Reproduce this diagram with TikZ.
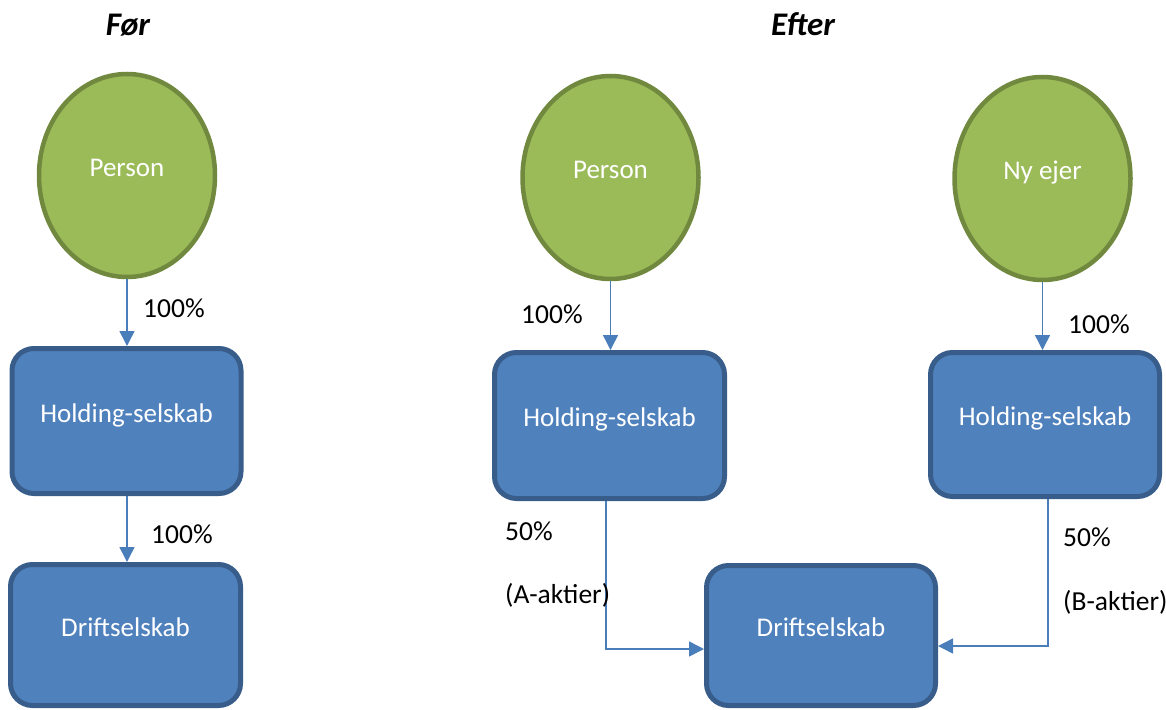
\documentclass[tikz,border=0pt]{standalone}
\usepackage{fontspec}
\setmainfont{Carlito}
\usetikzlibrary{shapes.geometric,arrows.meta}
\definecolor{ownerfill}{HTML}{9BBB59}
\definecolor{ownerline}{HTML}{71893F}
\definecolor{boxfill}{HTML}{4F81BD}
\definecolor{boxline}{HTML}{385D8A}
\definecolor{linkcol}{HTML}{4A7EBB}

\begin{document}
\begin{tikzpicture}[x=1pt,y=-1pt,
  owner/.style={ellipse, draw=ownerline, fill=ownerfill, line width=4.5pt,
    minimum width=176pt, minimum height=203pt, inner sep=0pt,
    text=white, font=\fontsize{27}{31}\selectfont, text height=17pt, text depth=15pt},
  company/.style={rectangle, rounded corners=22pt, draw=boxline, fill=boxfill,
    line width=5pt, minimum width=229pt, minimum height=143pt, inner sep=0pt,
    text=white, font=\fontsize{27}{31}\selectfont, text height=17pt, text depth=15pt},
  pct/.style={font=\fontsize{27.5}{31}\selectfont, anchor=west, inner sep=0pt,
    text height=17pt, text depth=0pt},
  heading/.style={font=\fontsize{33}{38}\selectfont\bfseries\itshape, inner sep=0pt,
    text height=21pt, text depth=0pt},
  link/.style={draw=linkcol, line width=1.5pt, -{Triangle[width=15pt,length=15pt]}}
]
\useasboundingbox (0,0) rectangle (1166,709);

% headings
\node[heading] (tfor) at (128,25) {Før};
\node[heading] (tefter) at (803,25) {Efter};

% before
\node[owner] (p1) at (127,175.5) {Person};
\node[company, minimum height=145pt] (h1) at (126.5,421) {Holding-selskab};
\node[company, minimum height=141pt, minimum width=230pt] (d1) at (125.5,635) {Driftselskab};
\draw[link] (p1.south) -- (p1.south |- h1.north);
\draw[link] (p1.south |- h1.south) -- (p1.south |- d1.north);
\node[pct] (l1) at (143,309) {100\%};
\node[pct] (l2) at (151,535) {100\%};

% after
\node[owner] (p2) at (610.5,177.5) {Person};
\node[owner] (p3) at (1042.5,178.5) {Ny ejer};
\node[company, minimum width=230pt, minimum height=146pt] (h2) at (609.5,425.5) {Holding-selskab};
\node[company, minimum height=144pt] (h3) at (1045,424.5) {Holding-selskab};
\node[company, minimum height=140pt] (d2) at (821,635.5) {Driftselskab};

\draw[link] (p2.south) -- (p2.south |- h2.north);
\draw[link] (p3.south) -- (p3.south |- h3.north);
\coordinate (a1) at ([xshift=-3.5pt]h2.south);
\coordinate (b1) at ([xshift=3pt]h3.south);
\coordinate (a2) at ([yshift=-13.5pt]d2.west);
\coordinate (b2) at ([yshift=-10.5pt]d2.east);
\draw[link] (a1) |- (a2);
\draw[link] (b1) |- (b2);

\node[pct] (l3) at (521,315) {100\%};
\node[pct] (l4) at (1068,325) {100\%};
\node[pct] (l5) at (505,532) {50\%};
\node[pct] (l6) at (505,595) {(A-aktier)};
\node[pct] (l7) at (1063,538) {50\%};
\node[pct] (l8) at (1063,602) {(B-aktier)};
\end{tikzpicture}
\end{document}
